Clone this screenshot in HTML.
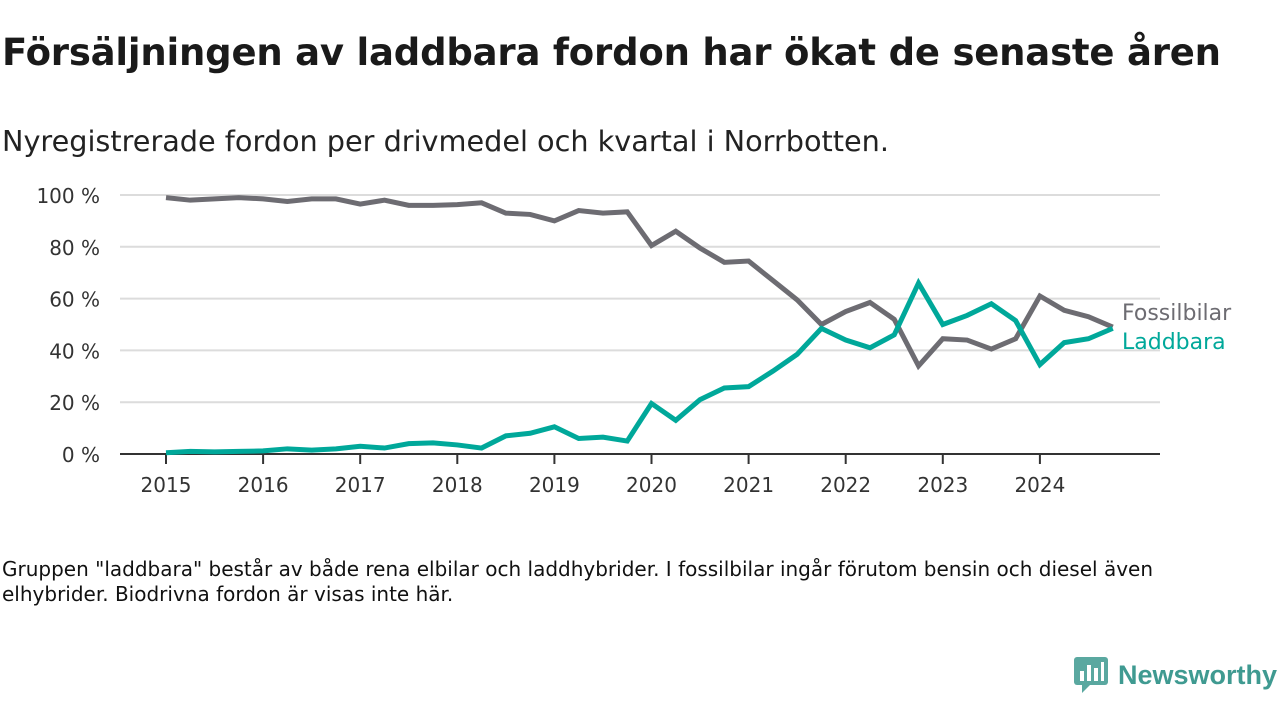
<!DOCTYPE html>
<html><head><meta charset="utf-8"><style>
body{margin:0;width:1280px;height:720px;background:#fff;font-family:"DejaVu Sans",sans-serif;overflow:hidden;position:relative;color:#111}
h1{position:absolute;left:2px;top:31px;margin:0;font-size:37px;font-weight:bold;color:#1a1a1a;white-space:nowrap;letter-spacing:-0.2px}
.sub{position:absolute;left:2px;top:124px;font-size:28.7px;color:#222;white-space:nowrap}
.foot{position:absolute;left:2px;top:557px;font-size:20px;line-height:25px;color:#111;width:1215px}
svg{position:absolute;left:0;top:0}
</style></head><body>
<h1>Försäljningen av laddbara fordon har ökat de senaste åren</h1>
<div class="sub">Nyregistrerade fordon per drivmedel och kvartal i Norrbotten.</div>
<div class="foot">Gruppen "laddbara" består av både rena elbilar och laddhybrider. I fossilbilar ingår förutom bensin och diesel även elhybrider. Biodrivna fordon är visas inte här.</div>
<svg id="chart" width="1280" height="720"></svg>
<div style="position:absolute;left:1074px;top:657px;display:flex;align-items:center">
<svg width="34" height="36" style="position:static"><rect x="0" y="0" width="34" height="28" rx="3" fill="#5aa8a0"/><polygon points="8,28 16,28 8,36" fill="#5aa8a0"/><rect x="6" y="14" width="4" height="10" fill="#fff"/><rect x="13" y="8" width="4" height="16" fill="#fff"/><rect x="20" y="11" width="4" height="13" fill="#fff"/><rect x="27" y="5" width="3" height="19" fill="#fff"/></svg>
<span style="font-size:27px;color:#3f9a91;font-weight:bold;margin-left:10px;font-family:'Liberation Sans',sans-serif">Newsworthy</span></div>
<script>
const years=["2015","2016","2017","2018","2019","2020","2021","2022","2023","2024"];
const yTicks=[0,20,40,60,80,100];
const fossil=[99,98,98.5,99,98.5,97.5,98.5,98.5,96.5,98,96,96,96.3,97,93,92.5,90,94,93,93.5,80.5,86,79.5,74,74.5,67,59.5,50,55,58.5,52,34,44.5,44,40.5,44.5,61,55.5,53,49];
const laddbara=[0.5,1,0.8,1,1.2,2,1.5,2,3,2.3,4,4.3,3.5,2.3,7,8,10.5,6,6.5,5,19.5,13,21,25.5,26,32,38.5,48.5,44,41,46,66,50,53.5,58,51.5,34.5,43,44.5,48.5];
const NS="http://www.w3.org/2000/svg",svg=document.getElementById('chart');
const x0=166,yearW=97.1,qW=yearW/4;
const xq=i=>x0+i*qW, yv=v=>454-v*2.59;
const FF='DejaVu Sans';
function mk(t,a,txt){const e=document.createElementNS(NS,t);for(const k in a)e.setAttribute(k,a[k]);if(txt!=null)e.textContent=txt;svg.appendChild(e);return e;}
yTicks.forEach(v=>{
 if(v>0){const g=mk('line',{x1:120,x2:1160,y1:yv(v),y2:yv(v),stroke:'#dcdcdc','stroke-width':2});
 
 }
 const t=mk('text',{x:100,y:yv(v)+8,'text-anchor':'end','font-size':20,fill:'#333','font-family':FF},v+' %');
 
 
});
const ax=mk('line',{x1:120,x2:1160,y1:454,y2:454,stroke:'#333','stroke-width':2});


years.forEach((y,i)=>{
 const x=x0+i*yearW;
 const tk=mk('line',{x1:x,x2:x,y1:454,y2:464,stroke:'#333','stroke-width':2});
 
 
 const t=mk('text',{x:x,y:492,'text-anchor':'middle','font-size':20,fill:'#333','font-family':FF},y);
 
 
});
function series(arr,col,name){
 const p=mk('polyline',{points:arr.map((v,i)=>xq(i)+','+yv(v)).join(' '),fill:'none',stroke:col,'stroke-width':5,'stroke-linejoin':'miter'});
 
 
}
series(fossil,'#6d6c72','fossilbilar-line');
series(laddbara,'#00a89a','laddbara-line');
const l1=mk('text',{x:1122,y:320,'font-size':22,fill:'#6d6c72','font-family':FF},'Fossilbilar');


const l2=mk('text',{x:1122,y:349,'font-size':22,fill:'#00a89a','font-family':FF},'Laddbara');


</script>
</body></html>
